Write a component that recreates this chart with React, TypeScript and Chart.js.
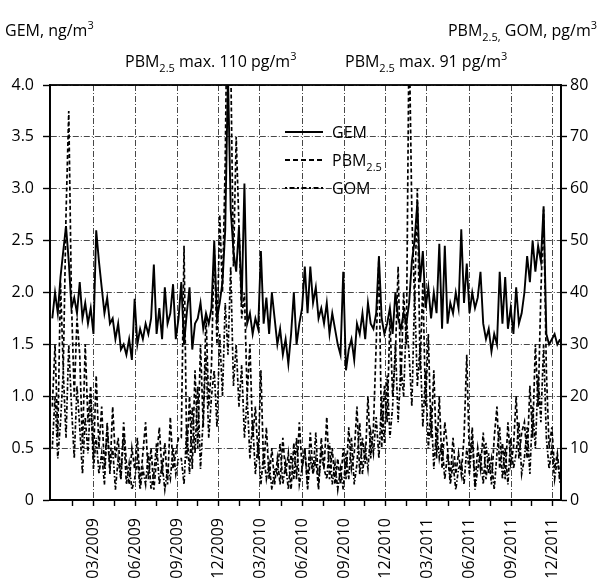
import React, { useEffect, useRef } from 'react';
import { Chart, registerables } from 'chart.js';

Chart.register(...registerables);

// x positions: days since 2009-01-01, one value every STEP_DAYS days
const START_DAY = -30;
const STEP_DAYS = 6;

// GEM, ng/m3 (left axis)
const GEM = [
  1.75, 2.0, 1.8,
  2.15, 2.4, 2.64, 2.3, 1.85, 1.95,
  1.8, 2.1, 1.75, 1.9,
  1.7, 1.85, 1.6,
  2.6, 2.3, 2.05, 1.8,
  1.95, 1.7, 1.75,
  1.55, 1.7, 1.45, 1.5, 1.4, 1.55, 1.35,
  1.94, 1.5, 1.65, 1.55, 1.7, 1.6, 1.75,
  2.27, 1.6, 1.85, 1.55, 2.05, 1.7, 1.8, 2.08, 1.55, 1.75,
  2.1, 1.5, 1.8, 2.05, 1.45, 1.7,
  1.75, 1.9, 1.65, 1.8, 1.7, 1.85,
  2.5, 1.75, 1.9, 2.1, 2.6,
  4.1, 2.8, 2.4, 2.2, 2.63, 1.9,
  3.05, 1.7, 1.8, 1.6, 1.75, 1.65,
  2.4, 1.7, 1.95, 1.6, 2.0, 1.75,
  1.5, 1.65, 1.4, 1.55, 1.31, 1.6,
  2.0, 1.5, 1.7, 1.85, 2.25,
  1.8, 2.25, 1.9, 2.05,
  1.75, 1.85, 1.7, 1.9, 1.6, 1.8, 1.65, 1.5,
  1.4, 2.2, 1.25, 1.45, 1.55, 1.35,
  1.7, 1.6, 1.8, 1.55, 1.9, 1.7, 1.65, 1.8,
  2.35, 1.75, 1.6,
  1.7, 1.85, 1.6, 2.0, 1.75, 1.65, 1.8, 1.7,
  1.9, 2.3, 2.5, 2.87, 2.1, 2.4,
  1.85, 2.05, 1.75, 2.0, 1.8,
  2.47, 1.65, 2.45, 1.7, 1.9, 1.8, 2.0, 1.85,
  2.61, 1.9, 2.28, 1.8, 2.0, 1.85, 1.95,
  2.2, 1.7, 1.55, 1.65, 1.43, 1.6, 1.5,
  2.2, 1.7, 2.15,
  1.65, 1.85, 1.6, 2.05, 1.7, 1.8,
  2.0, 2.35, 2.1, 2.5, 2.2, 2.45, 2.3, 2.83,
  1.6, 1.5, 1.55, 1.6, 1.5, 1.55,
];

// PBM2.5, pg/m3 (right axis)
const PBM25 = [
  18, 30, 12, 42, 25, 55, 75, 38, 20, 35, 28, 10, 30, 15, 22, 8,
  24, 10, 18, 6,
  14, 5, 18, 8, 12, 4, 15, 7, 3, 10,
  6, 12, 3, 9, 15, 4, 10, 2, 8, 14, 5, 11, 3, 16, 6, 9, 12,
  12, 49, 8, 20, 6, 25, 10, 30, 14, 36, 18, 26,
  49, 30, 55, 40, 65, 110, 85, 45, 70, 53, 35,
  40, 20, 30, 12, 18, 8,
  25, 6, 14, 4, 10, 3,
  8, 3, 12, 5, 9, 2, 11, 4, 15, 6, 10, 3, 13, 5, 8, 2, 12, 6, 16, 4, 10, 3, 8,
  3, 10, 4, 14, 6, 9, 18, 5, 12, 7, 20, 8, 14, 30, 47, 10, 22,
  15, 35, 20, 28, 45, 22, 40, 30, 91, 55, 38, 60, 25, 42,
  18, 32, 12, 25, 8, 20, 6, 15, 10, 4, 12, 5, 9,
  5, 12, 28, 7, 14, 3, 10, 6, 13, 4, 9, 3, 12, 18, 6, 11, 4, 15, 7, 10, 20, 8, 13,
  15, 8, 22, 12, 30, 18, 40, 56, 25, 10, 14, 6, 9, 4,
];

// GOM, pg/m3 (right axis)
const GOM = [
  10, 20, 8, 15, 25, 12, 30, 18, 8, 22, 14, 5, 16, 9, 20, 6,
  12, 5, 9, 3, 15, 6, 10, 2, 8, 4, 13, 3, 7, 2,
  4, 8, 2, 6, 3, 9, 2, 5, 11, 3, 7, 2, 6, 4, 10, 5, 8,
  8, 3, 14, 5, 18, 9, 22, 6, 16, 28, 12, 20,
  25, 14, 32, 20, 38, 28, 45, 22, 30, 18, 26,
  12, 20, 8, 15, 5, 11, 3, 9, 4, 7, 2, 6,
  5, 11, 3, 7, 2, 9, 4, 12, 3, 6, 10, 2, 8, 5, 13, 3, 9, 6, 4, 11, 3, 7, 2,
  6, 2, 9, 4, 12, 3, 7, 15, 5, 10, 6, 13, 9, 16, 8, 20, 11,
  24, 12, 18, 30, 15, 26, 20, 35, 28, 18, 40, 22, 30, 14,
  25, 10, 18, 6, 14, 8, 11, 4, 9, 3, 7, 2, 6,
  7, 3, 10, 5, 12, 2, 6, 9, 3, 11, 5, 8, 2, 9, 14, 4, 10, 3, 12, 6, 9, 15, 5,
  8, 14, 5, 18, 10, 24, 15, 30, 12, 6, 10, 4, 8, 3,
];

// x-axis ticks (days since 2009-01-01)
const TICK_DAYS = [59, 151, 243, 334, 424, 516, 608, 699, 789, 881, 973, 1064];
const TICK_LABELS = [
  '03/2009', '06/2009', '09/2009', '12/2009',
  '03/2010', '06/2010', '09/2010', '12/2010',
  '03/2011', '06/2011', '09/2011', '12/2011',
];
const MINOR_TICK_DAYS = [14, 105, 197, 288, 379, 470, 562, 653, 744, 835, 927, 1018];

const X_MIN = -35;
const X_MAX = 1082;

const FONT = '"Open Sans", "DejaVu Sans", sans-serif';

type Part = { t: string; sub?: boolean; sup?: boolean };

function drawRich(ctx: CanvasRenderingContext2D, parts: Part[], x: number, y: number, align: 'left' | 'right') {
  const fontFor = (p: Part) => (p.sub || p.sup ? `11px ${FONT}` : `16px ${FONT}`);
  let total = 0;
  for (const p of parts) {
    ctx.font = fontFor(p);
    total += ctx.measureText(p.t).width;
  }
  let cx = align === 'right' ? x - total : x;
  ctx.textAlign = 'left';
  ctx.textBaseline = 'alphabetic';
  ctx.fillStyle = '#000';
  for (const p of parts) {
    ctx.font = fontFor(p);
    const dy = p.sub ? 5 : p.sup ? -7 : 0;
    ctx.fillText(p.t, cx, y + dy);
    cx += ctx.measureText(p.t).width;
  }
}

const annotations = {
  id: 'annotations',
  afterDatasetsDraw(chart: any) {
    const ctx: CanvasRenderingContext2D = chart.ctx;
    const a = chart.chartArea;
    ctx.save();
    // frame
    ctx.strokeStyle = '#000';
    ctx.lineWidth = 1.8;
    ctx.setLineDash([]);
    ctx.strokeRect(a.left, a.top, a.right - a.left, a.bottom - a.top);

    // axis titles
    drawRich(ctx, [{ t: 'GEM, ng/m' }, { t: '3', sup: true }], 5, 36, 'left');
    drawRich(ctx, [{ t: 'PBM' }, { t: '2.5,', sub: true }, { t: ' GOM, pg/m' }, { t: '3', sup: true }], 597, 36, 'right');
    drawRich(ctx, [{ t: 'PBM' }, { t: '2.5', sub: true }, { t: ' max. 110 pg/m' }, { t: '3', sup: true }], 125, 67, 'left');
    drawRich(ctx, [{ t: 'PBM' }, { t: '2.5', sub: true }, { t: ' max. 91 pg/m' }, { t: '3', sup: true }], 345, 67, 'left');

    // legend
    const items: { dash: number[]; parts: Part[] }[] = [
      { dash: [], parts: [{ t: 'GEM' }] },
      { dash: [5, 3], parts: [{ t: 'PBM' }, { t: '2.5', sub: true }] },
      { dash: [2, 2.5, 5, 2.5], parts: [{ t: 'GOM' }] },
    ];
    items.forEach((it, k) => {
      const y = 132 + k * 28;
      ctx.beginPath();
      ctx.setLineDash(it.dash);
      ctx.lineWidth = 2.2;
      ctx.strokeStyle = '#000';
      ctx.moveTo(285, y);
      ctx.lineTo(323, y);
      ctx.stroke();
      ctx.setLineDash([]);
      drawRich(ctx, it.parts, 332, y + 6, 'left');
    });
    ctx.restore();
  },
};

const toPoints = (vals: number[]) => vals.map((v, i) => ({ x: START_DAY + i * STEP_DAYS, y: v }));

export default function App() {
  const ref = useRef<HTMLCanvasElement | null>(null);

  useEffect(() => {
    if (!ref.current) return;
    const gridDash = [6, 2, 1, 2];
    const chart = new Chart(ref.current, {
      type: 'line',
      data: {
        datasets: [
          {
            label: 'GEM',
            data: toPoints(GEM),
            yAxisID: 'y',
            borderColor: '#000',
            borderWidth: 1.9,
            pointRadius: 0,
            tension: 0,
          },
          {
            label: 'PBM2.5',
            data: toPoints(PBM25),
            yAxisID: 'y2',
            borderColor: '#000',
            borderWidth: 1.7,
            borderDash: [4, 2.5],
            pointRadius: 0,
            tension: 0,
          },
          {
            label: 'GOM',
            data: toPoints(GOM),
            yAxisID: 'y2',
            borderColor: '#000',
            borderWidth: 1.7,
            borderDash: [1.5, 2, 4, 2],
            pointRadius: 0,
            tension: 0,
          },
        ],
      },
      options: {
        responsive: false,
        animation: false,
        layout: { padding: { top: 85, left: 0, right: 0, bottom: 0 } },
        plugins: { legend: { display: false }, tooltip: { enabled: false } },
        scales: {
          x: {
            type: 'linear',
            min: X_MIN,
            max: X_MAX,
            afterBuildTicks: (scale: any) => {
              const all = [...TICK_DAYS, ...MINOR_TICK_DAYS].sort((p, q) => p - q);
              scale.ticks = all.map((v) => ({ value: v }));
            },
            afterFit: (scale: any) => {
              scale.height = 88;
            },
            ticks: {
              autoSkip: false,
              maxRotation: 90,
              minRotation: 90,
              padding: 12,
              color: '#000',
              font: { family: FONT, size: 16 },
              callback: (value: any) => {
                const k = TICK_DAYS.indexOf(Number(value));
                return k >= 0 ? TICK_LABELS[k] : '';
              },
            },
            grid: {
              color: (c: any) => (TICK_DAYS.includes(c.tick?.value) ? '#333' : 'rgba(0,0,0,0)'),
              lineWidth: 0.9,
              tickColor: '#000',
              tickLength: 6,
              tickWidth: 1.4,
            },
            border: { display: true, color: '#000', width: 1.8, dash: gridDash },
          },
          y: {
            position: 'left',
            min: 0,
            max: 4,
            afterFit: (scale: any) => {
              scale.width = 50;
            },
            ticks: {
              stepSize: 0.5,
              padding: 9,
              color: '#000',
              font: { family: FONT, size: 16 },
              callback: (v: any) => (Number(v) === 0 ? '0' : Number(v).toFixed(1)),
            },
            grid: {
              color: '#333',
              lineWidth: 0.9,
              tickColor: '#000',
              tickLength: 7,
              tickWidth: 1.4,
            },
            border: { display: true, color: '#000', width: 1.8, dash: gridDash },
          },
          y2: {
            position: 'right',
            min: 0,
            max: 80,
            afterFit: (scale: any) => {
              scale.width = 39;
            },
            ticks: {
              stepSize: 10,
              padding: 3,
              color: '#000',
              font: { family: FONT, size: 16 },
            },
            grid: {
              drawOnChartArea: false,
              color: '#000',
              tickColor: '#000',
              tickLength: 6,
              tickWidth: 1.4,
            },
            border: { display: true, color: '#000', width: 1.8 },
          },
        },
      },
      plugins: [annotations],
    });
    return () => chart.destroy();
  }, []);

  return (
    <div style={{ position: 'absolute', left: 0, top: 0, width: 600, height: 588, background: '#fff' }}>
      <canvas ref={ref} width={600} height={588} style={{ display: 'block' }} />
    </div>
  );
}
